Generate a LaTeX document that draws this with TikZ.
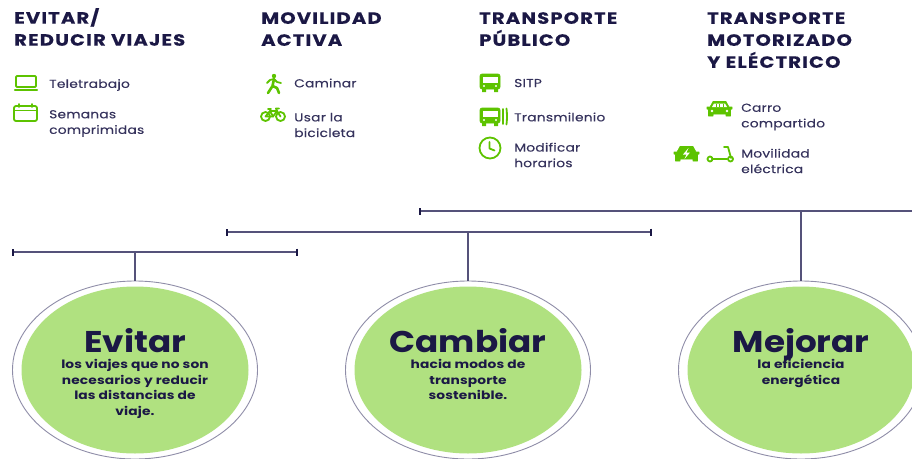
\documentclass[tikz,border=0pt]{standalone}
\usepackage{fontspec}
\setmainfont{Poppins}
\newfontfamily\letratitulo[FakeStretch=1.2,LetterSpace=7,FakeBold=0.3]{Poppins}
\newfontfamily\letraitem[FakeStretch=1.2,LetterSpace=2,FakeBold=0.25]{Poppins}
\newfontfamily\letralema[FakeStretch=1.2,LetterSpace=1]{Poppins}
\newfontfamily\letranombre[FakeStretch=1.14]{Poppins}
\usetikzlibrary{shapes.geometric,positioning,arrows.meta}
\definecolor{tinta}{HTML}{1B1845}
\definecolor{texto}{HTML}{35325C}
\definecolor{verde}{HTML}{5DC300}
\definecolor{relleno}{HTML}{B0E180}
\definecolor{aro}{HTML}{8F8DA8}
\definecolor{barra}{HTML}{55527A}
\tikzset{
    titulo/.style={anchor=north west,inner sep=0pt,align=left,text=tinta,font=\fontsize{16.3}{22}\letratitulo\bfseries},
    item/.style={anchor=west,inner sep=0pt,align=left,text=texto,font=\fontsize{11.5}{15.6}\letraitem},
    aroext/.style={ellipse,draw=aro,line width=0.9pt,fill=white,minimum width=245pt,minimum height=178pt,inner sep=0pt},
    aroint/.style={ellipse,fill=relleno,minimum width=227pt,minimum height=167pt,inner sep=0pt},
    nombre/.style={inner sep=0pt,text height=22pt,text depth=4pt,text=tinta,font=\fontsize{30}{30}\letranombre\bfseries},
    lema/.style={inner sep=0pt,align=center,text=tinta,font=\fontsize{11.5}{15.6}\letralema\bfseries},
    tramo/.style={draw=barra,line width=1.3pt},
    remate/.style={{Bar[width=7pt,line width=2pt,color=tinta]}-{Bar[width=7pt,line width=2pt,color=tinta]}},
    icono/.style={draw=verde,line width=1.8pt,line join=round,line cap=round},
    macizo/.style={fill=verde,draw=verde,line width=0.6pt,line join=round},
    laptop/.pic={
        \draw[icono,rounded corners=1pt] (2,0) rectangle (22,11);
        \draw[icono,line width=2.4pt] (1,14) -- (23,14);
    },
    calendario/.pic={
        \draw[icono,rounded corners=2pt] (0,2) rectangle (23,17);
        \draw[icono] (0,6.5) -- (23,6.5);
        \draw[icono] (5,0) -- (5,3) (18,0) -- (18,3);
    },
    peaton/.pic={
        \fill[verde] (8,2) circle (2.2);
        \draw[icono,line width=2.6pt] (8,5) -- (6.5,12) -- (2,19) (6.5,12) -- (11,14) -- (13,19);
        \draw[icono] (1,9) -- (4,6) -- (8,5) -- (11,8) -- (15,9);
    },
    bici/.pic={
        \draw[icono] (5.5,8.5) circle (4.5) (20.5,8.5) circle (4.5);
        \draw[icono] (5.5,8.5) -- (10,3) -- (17,3) -- (20.5,8.5) (5.5,8.5) -- (13,8.5) -- (17,3);
        \draw[icono] (10,3) -- (13,8.5) (8,1) -- (11,1) (17,3) -- (16,0.5) -- (19,0.5);
    },
    autobus/.pic={
        \draw[macizo,rounded corners=2pt] (0,0) rectangle (20,15);
        \fill[white] (2.5,3) rectangle (17.5,9);
        \fill[verde] (2,15) rectangle (6,18) (14,15) rectangle (18,18);
        \fill[white] (4,12) circle (1.2) (16,12) circle (1.2);
    },
    articulado/.pic={
        \pic at (0,0) {autobus};
        \draw[icono] (23,1) -- (23,16) (26.5,0.5) to[bend left=6] (26.5,16.5);
    },
    reloj/.pic={
        \draw[icono] (0,0) circle (10.5);
        \draw[icono] (-0.5,-6) -- (-0.5,0.5) -- (4.5,2.5);
    },
    carro/.pic={
        \draw[macizo] (0,6) -- (3,6) -- (6,0.5) -- (19,0.5) -- (22,6) -- (25,6) -- (25,8) -- (23.5,8.5) -- (23.5,15) -- (19,15) -- (19,13) -- (6,13) -- (6,15) -- (1.5,15) -- (1.5,8.5) -- (0,8) -- cycle;
        \fill[white] (5,6) -- (7,2.5) -- (18,2.5) -- (20,6) -- cycle;
        \fill[white] (5,10) circle (1.3) (20,10) circle (1.3);
    },
    compartido/.pic={
        \pic at (0,0) {carro};
        \draw[verde,line width=0.8pt] (9,2.5) -- (9,6) (12.5,2.5) -- (12.5,6) (16,2.5) -- (16,6);
    },
    electrico/.pic={
        \draw[macizo] (0,6) -- (3,6) -- (6,0.5) -- (19,0.5) -- (22,6) -- (25,6) -- (25,8) -- (23.5,8.5) -- (23.5,15) -- (19,15) -- (19,13) -- (6,13) -- (6,15) -- (1.5,15) -- (1.5,8.5) -- (0,8) -- cycle;
        \fill[white] (14.5,2) -- (9,8.5) -- (12.5,8.5) -- (10.5,13) -- (16,6.5) -- (12.5,6.5) -- cycle;
    },
    patin/.pic={
        \draw[icono] (17,0) -- (21,0) -- (24,11);
        \draw[icono] (5,12) -- (20,12);
        \draw[icono] (3,12) circle (2.5) (23.5,12) circle (2.5);
    },
}
\begin{document}
\begin{tikzpicture}[x=1pt,y=-1pt]
    \useasboundingbox (0,0) rectangle (912,458);
    \clip (0,0) rectangle (912,458);

    % encabezados
    \node[titulo] (evitartit) at (14,8) {EVITAR/\\REDUCIR VIAJES};
    \node[titulo] (activatit) at (261,12) {MOVILIDAD\\ACTIVA};
    \node[titulo] (publicotit) at (479,12) {TRANSPORTE\\PÚBLICO};
    \node[titulo] (motortit) at (707,12) {TRANSPORTE\\MOTORIZADO\\Y ELÉCTRICO};

    % listas
    \pic at (14,76) {laptop};
    \node[item] (tele) at (49,85) {Teletrabajo};
    \pic at (14,104) {calendario};
    \node[item] (semanas) at (49,123.5) {Semanas\\comprimidas};

    \pic at (266,74) {peaton};
    \node[item] (caminar) at (294,83) {Caminar};
    \pic at (260,108) {bici};
    \node[item] (usar) at (294,125) {Usar la\\bicicleta};

    \pic at (480,74) {autobus};
    \node[item] (sitp) at (514,83) {SITP};
    \pic at (480,108) {articulado};
    \node[item] (transmi) at (514,117) {Transmilenio};
    \pic at (490,148) {reloj};
    \node[item] (modificar) at (514,155) {Modificar\\horarios};

    \pic at (707,101) {compartido};
    \node[item] (carrotxt) at (741,117) {Carro\\compartido};
    \pic at (674,146) {electrico};
    \pic at (707,147) {patin};
    \node[item] (movilidad) at (741,161) {Movilidad\\eléctrica};

    % circulos
    \node[aroext] (evitar) at (135,370) {};
    \node[aroint] at (evitar) (evitarin) {};
    \node[nombre] (evitarnom) at (135,343) {Evitar};
    \node[lema,below=3pt of evitarnom] (evitarlem) {los viajes que no son\\necesarios y reducir\\las distancias de\\viaje.};

    \node[aroext] (cambiar) at (468,370) {};
    \node[aroint] at (cambiar) (cambiarin) {};
    \node[nombre] (cambiarnom) at (468,343) {Cambiar};
    \node[lema,below=3pt of cambiarnom] (cambiarlem) {hacia modos de\\transporte\\sostenible.};

    \node[aroext] (mejorar) at (801,370) {};
    \node[aroint] at (mejorar) (mejorarin) {};
    \node[nombre] (mejorarnom) at (801,343) {Mejorar};
    \node[lema,below=3pt of mejorarnom] (mejorarlem) {la eficiencia\\energética};

    % barras
    \coordinate (evitarizq) at (11.5,252);
    \coordinate (evitarder) at (297.5,252);
    \coordinate (evitarsal) at (135,252);
    \coordinate (cambiarizq) at (225.5,232);
    \coordinate (cambiarder) at (652,232);
    \coordinate (cambiarsal) at (468,232);
    \coordinate (mejorarizq) at (418.5,211);
    \coordinate (mejorarder) at (914,211);
    \coordinate (mejorarsal) at (801,211);

    \draw[tramo,remate] (evitarizq) -- (evitarder);
    \draw[tramo,remate] (cambiarizq) -- (cambiarder);
    \draw[tramo,{Bar[width=7pt,line width=2pt,color=tinta]}-] (mejorarizq) -- (mejorarder);
    \draw[tramo] (evitarsal) -- (evitar.north);
    \draw[tramo] (cambiarsal) -- (cambiar.north);
    \draw[tramo] (mejorarsal) -- (mejorar.north);
\end{tikzpicture}
\end{document}
